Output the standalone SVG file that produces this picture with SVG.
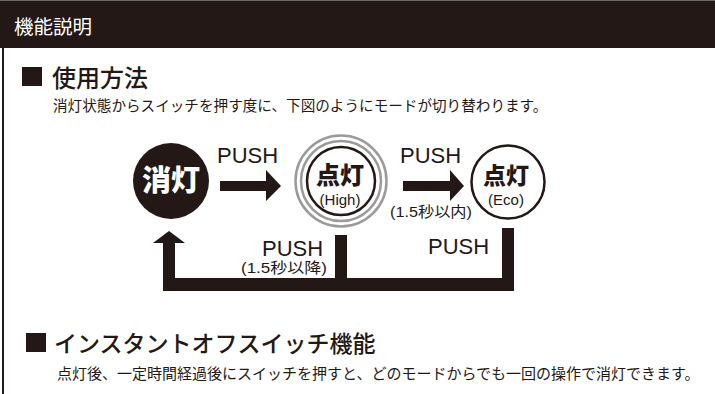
<svg xmlns="http://www.w3.org/2000/svg" width="715" height="394" viewBox="0 0 715 394">
<style>
.ink{fill:#231815}
.jp{font-family:"Noto Sans CJK JP","Noto Sans",sans-serif;fill:#231815}
.lat{font-family:"Liberation Sans","Noto Sans CJK JP",sans-serif;fill:#231815}
.heavy{font-family:"Noto Sans CJK JP",sans-serif;font-weight:900}
</style>
<rect width="715" height="394" fill="#ffffff"/>
<g id="header">
<rect x="0" y="0" width="715" height="48" class="ink"/>
<rect x="0" y="0" width="715" height="1" fill="#6e6866"/>
<text x="14" y="34" class="jp" font-size="19.5" style="fill:#ffffff">機能説明</text>
<rect x="2" y="48" width="2" height="346" class="ink"/>
</g>
<g id="section1">
<rect x="22" y="67" width="20" height="19" class="ink"/>
<text x="52" y="87" class="jp" font-size="24" font-weight="500">使用方法</text>
<text x="53" y="111" class="jp" font-size="14.6">消灯状態からスイッチを押す度に、下図のようにモードが切り替わります。</text>
</g>
<g id="connectors">
<polygon class="ink" points="220,181 266,181 266,170 281,186 266,201 266,191 220,191"/>
<polygon class="ink" points="403,181 450,181 450,170 464,186 450,201 450,191 403,191"/>
<path class="ink" d="M163,291 L514,291 L514,228 L502,228 L502,278 L347,278 L347,235 L335,235 L335,278 L175,278 L175,243 L185,243 L169,231 L153,243 L163,243 Z"/>
</g>
<g id="node-off">
<circle cx="171" cy="181" r="38" class="ink"/>
<text x="171" y="191" text-anchor="middle" class="heavy" font-size="29" fill="#ffffff">消灯</text>
</g>
<g id="node-high">
<circle cx="341" cy="181" r="45.5" fill="none" stroke="#9a9a9a" stroke-width="2.5"/>
<circle cx="341" cy="181" r="40" fill="none" stroke="#9a9a9a" stroke-width="2.5"/>
<circle cx="341" cy="181" r="34" fill="#ffffff" stroke="#231815" stroke-width="2.5"/>
<text x="340" y="184" text-anchor="middle" class="heavy" font-size="24" fill="#231815">点灯</text>
<text x="340" y="205" text-anchor="middle" class="lat" font-size="15">(High)</text>
</g>
<g id="node-eco">
<circle cx="508" cy="182" r="36.5" fill="#ffffff" stroke="#231815" stroke-width="2.5"/>
<text x="506" y="184" text-anchor="middle" class="heavy" font-size="23" fill="#231815">点灯</text>
<text x="506" y="205" text-anchor="middle" class="lat" font-size="15">(Eco)</text>
</g>
<g id="labels">
<text x="217" y="163" class="lat" font-size="22">PUSH</text>
<text x="400" y="163" class="lat" font-size="22">PUSH</text>
<text x="390" y="217" class="lat" font-size="14.5" textLength="82" lengthAdjust="spacingAndGlyphs">(1.5秒以内)</text>
<text x="262" y="256" class="lat" font-size="22">PUSH</text>
<text x="241" y="273" class="lat" font-size="14.5" textLength="86" lengthAdjust="spacingAndGlyphs">(1.5秒以降)</text>
<text x="428" y="254" class="lat" font-size="22">PUSH</text>
</g>
<g id="section2">
<rect x="26" y="333" width="20" height="19" class="ink"/>
<text x="54" y="352" class="jp" font-size="23" font-weight="500">インスタントオフスイッチ機能</text>
<text x="57" y="379" class="jp" font-size="15">点灯後、一定時間経過後にスイッチを押すと、どのモードからでも一回の操作で消灯できます。</text>
</g>
</svg>
